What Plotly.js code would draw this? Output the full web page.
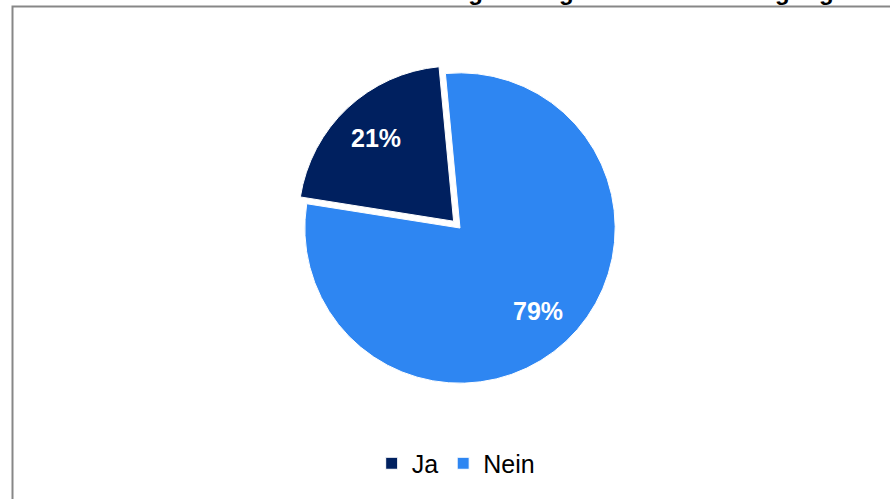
<!DOCTYPE html>
<html>
<head>
<meta charset="utf-8">
<script src="https://cdn.plot.ly/plotly-3.0.1.min.js"></script>
<style>
html,body{margin:0;padding:0;background:#fff;overflow:hidden;}
#chart{width:890px;height:499px;}
</style>
</head>
<body>
<div id="chart"></div>
<script>
const labels = ["Ja", "Nein"];
const values = [21, 79];
const colors = ["#00205f", "#2e86f2"];
const titleText = "Gibt es in Ihrem Unternehmen eine regelmäßige Mitarbeiterbefragung?";

const W = 890, H = 499;
const rotation = -81;
const pulls = [0.06, 0];
const dom = {x: [0.2, 0.8337], y: [0.2134, 0.8727]};

const trace = {
  type: "pie",
  labels: labels,
  values: values,
  sort: false,
  direction: "counterclockwise",
  rotation: rotation,
  pull: pulls,
  marker: {colors: colors, line: {color: "#ffffff", width: 1}},
  textinfo: "none",
  hoverinfo: "label+percent",
  domain: dom
};

// percentage labels placed along each slice bisector (computed from the data)
const total = values.reduce((a, b) => a + b, 0);
const wPx = (dom.x[1] - dom.x[0]) * W, hPx = (dom.y[1] - dom.y[0]) * H;
const maxPull = Math.max(...pulls);
const r = Math.min(wPx, hPx) / 2 / (1 + maxPull);
const cx = (dom.x[0] + dom.x[1]) / 2 * W;
const cy = (1 - (dom.y[0] + dom.y[1]) / 2) * H;
let start = rotation;
const annotations = values.map((v, i) => {
  const span = v / total * 360;
  const mid = (start + span / 2) * Math.PI / 180;
  start += span;
  const d = r * (pulls[i] + 0.735);
  const px = cx + d * Math.sin(mid);
  const py = cy - d * Math.cos(mid);
  return {
    text: Math.round(v / total * 100) + "%",
    x: px / W, y: 1 - py / H, xref: "paper", yref: "paper",
    showarrow: false, xanchor: "center", yanchor: "middle",
    font: {family: "Liberation Sans, Arial, sans-serif", size: 25, color: "#ffffff", weight: "bold"}
  };
});

const layout = {
  width: W,
  height: H,
  margin: {l: 0, r: 0, t: 0, b: 0},
  paper_bgcolor: "#ffffff",
  plot_bgcolor: "#ffffff",
  showlegend: true,
  legend: {
    orientation: "h",
    x: 0.512, xanchor: "center",
    y: 0.025, yanchor: "bottom",
    font: {family: "Liberation Sans, Arial, sans-serif", size: 25, color: "#000000"},
    itemwidth: 30,
    traceorder: "normal"
  },
  title: {
    text: titleText,
    font: {family: "Liberation Sans, Arial, sans-serif", size: 24, color: "#000000", weight: "bold"},
    x: 0.5, xanchor: "center",
    xref: "paper",
    yref: "container", y: 1.018, yanchor: "bottom"
  },
  annotations: annotations,
  shapes: [{
    type: "rect", xref: "paper", yref: "paper",
    x0: 12.5/W, x1: 1.05, y0: -0.05, y1: 1 - 6.5/H,
    line: {color: "#878787", width: 2}, fillcolor: "rgba(0,0,0,0)"
  }]
};

Plotly.newPlot("chart", [trace], layout, {displayModeBar: false, staticPlot: true});
</script>
</body>
</html>
